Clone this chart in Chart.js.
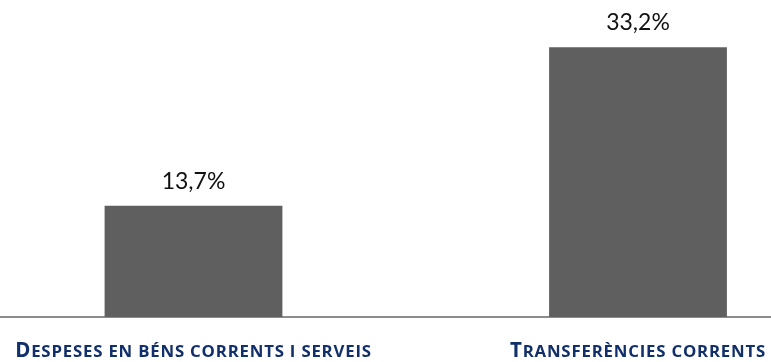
<!DOCTYPE html>
<html>
<head>
<meta charset="utf-8">
<script src="https://cdn.jsdelivr.net/npm/chart.js@4"></script>
<style>
  html, body { margin: 0; padding: 0; background: #ffffff; }
  #wrap { width: 771px; height: 362px; position: relative; }
</style>
</head>
<body>
<div id="wrap"><canvas id="c"></canvas></div>
<script>
const categories = ["Despeses en béns corrents i serveis", "Transferències corrents"];
const values = [13.7, 33.2];
const valueLabels = ["13,7%", "33,2%"];

const barColor = "#5f5f5f";
const labelColor = "#112f6a";

const bigFont = "bold 20.5px 'Open Sans'";
const smallFont = "bold 16.8px 'Open Sans'";

function smallCapsSegments(text) {
  const segs = [];
  let startOfWord = true;
  for (const ch of text) {
    if (ch === " ") { segs.push({ t: ch, f: smallFont }); startOfWord = true; continue; }
    if (startOfWord && ch === ch.toUpperCase()) segs.push({ t: ch, f: bigFont });
    else segs.push({ t: ch.toUpperCase(), f: smallFont });
    startOfWord = false;
  }
  return segs;
}

function drawSmallCaps(ctx, text, cx, y) {
  const segs = smallCapsSegments(text);
  if ("letterSpacing" in ctx) ctx.letterSpacing = "0.8px";
  let total = 0;
  segs.forEach(s => { ctx.font = s.f; s.w = ctx.measureText(s.t).width; total += s.w; });
  let x = cx - total / 2;
  ctx.textAlign = "left";
  segs.forEach(s => { ctx.font = s.f; ctx.fillText(s.t, x, y); x += s.w; });
}

const labelsPlugin = {
  id: "labelsPlugin",
  afterDatasetsDraw(chart) {
    const ctx = chart.ctx;
    const meta = chart.getDatasetMeta(0);
    ctx.save();
    ctx.font = "23px Lato";
    ctx.fillStyle = "#111111";
    ctx.textAlign = "center";
    ctx.textBaseline = "alphabetic";
    meta.data.forEach((bar, i) => {
      ctx.fillText(valueLabels[i], bar.x, bar.y - 17);
    });
    const xs = chart.scales.x;
    ctx.fillStyle = labelColor;
    categories.forEach((c, i) => {
      drawSmallCaps(ctx, c, xs.getPixelForValue(i), chart.chartArea.bottom + 40);
    });
    ctx.restore();
  }
};

new Chart(document.getElementById("c"), {
  type: "bar",
  data: {
    datasets: [{
      data: values.map((v, i) => ({ x: i, y: v })),
      backgroundColor: barColor,
      borderWidth: 0,
      barPercentage: 0.4,
      categoryPercentage: 1.0
    }]
  },
  options: {
    responsive: true,
    maintainAspectRatio: false,
    animation: false,
    layout: { padding: 0 },
    plugins: { legend: { display: false }, tooltip: { enabled: false } },
    scales: {
      x: {
        type: "linear",
        offset: false,
        min: -0.4353,
        max: 1.2992,
        grid: { display: false, drawTicks: false },
        border: { display: true, color: "#8c8c8c", width: 2 },
        afterBuildTicks(scale) {
          scale.ticks = categories.map((c, i) => ({ value: i }));
        },
        afterFit(scale) { scale.height = 45; },
        ticks: { display: false }
      },
      y: {
        display: false,
        min: 0,
        max: 39
      }
    }
  },
  plugins: [labelsPlugin]
});
</script>
</body>
</html>
